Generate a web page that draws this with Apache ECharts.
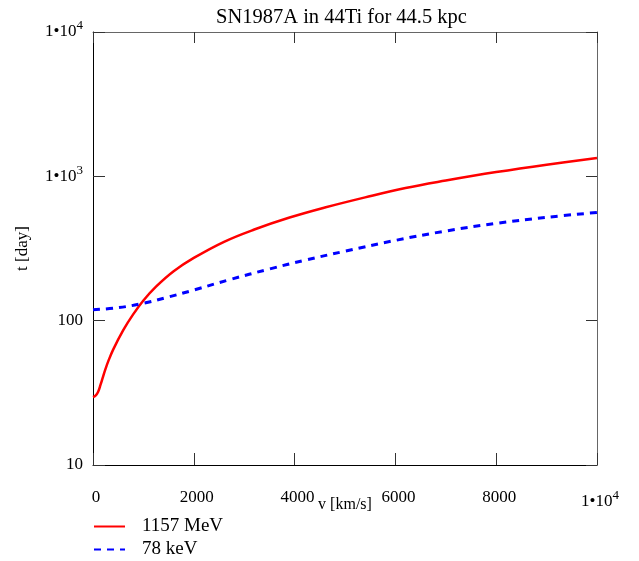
<!DOCTYPE html>
<html>
<head>
<meta charset="utf-8">
<script src="https://cdn.jsdelivr.net/npm/echarts@6/dist/echarts.min.js"></script>
<style>
html,body{margin:0;padding:0;background:#fff;}
#chart{width:639px;height:561px;}
</style>
</head>
<body>
<div id="chart"></div>
<script>
const titleText = 'SN1987A in 44Ti for 44.5 kpc';
const xName = 'v [km/s]';
const yName = 't [day]';
const seriesNames = ['1157 MeV', '78 keV'];

const redV = [0, 50, 100, 150, 200, 250, 300, 400, 600, 800, 1000, 1250, 1600, 2000, 2600, 3200, 3900, 4600, 5400, 6200, 7000, 8000, 9000, 10000];
const redT = [29.5, 30.2, 32, 36, 41, 46.5, 52, 63, 86, 111, 138, 172, 220, 272, 352, 428, 518, 608, 715, 830, 935, 1070, 1205, 1340];

const blueV = [0, 500, 1000, 1500, 2000, 2700, 3500, 4200, 5000, 6000, 7000, 8000, 9000, 10000];
const blueT = [119, 123, 132, 146, 163, 192, 228, 262, 303, 360, 418, 472, 520, 562];

const xTickMin = 0, xTickMax = 10000, xTickStep = 2000;
const yTickMin = 10, yTickMax = 10000;

const FONT = '"Liberation Serif", "DejaVu Serif", serif';

function pow10Label(v) {
  if (v === 10 || v === 100) return '{m|' + v + '}';
  const e = Math.round(Math.log10(v));
  return '{m|1\u202210}{s|' + e + '}';
}
const richStyle = {
  m: { fontSize: 17, fontFamily: FONT, color: '#000' },
  s: { fontSize: 13, fontFamily: FONT, color: '#000', padding: [0, 0, 12, 0] }
};

const chart = echarts.init(document.getElementById('chart'), null, { renderer: 'canvas' });
chart.setOption({
  animation: false,
  backgroundColor: '#fff',
  title: {
    text: titleText,
    left: 211, top: 2,
    textStyle: { fontFamily: FONT, fontSize: 20.5, fontWeight: 'normal', color: '#000' }
  },
  grid: { left: 93, right: 42, top: 32, bottom: 96 },
  legend: {
    orient: 'vertical',
    left: 93, top: 517, padding: 0, height: 80, width: 300,
    itemWidth: 31, itemHeight: 14, itemGap: 4,
    itemStyle: { opacity: 0 },
    textStyle: { fontFamily: FONT, fontSize: 19, lineHeight: 14, color: '#000', padding: [0, 0, 0, 12] },
    data: seriesNames
  },
  xAxis: [{
    type: 'value', min: xTickMin, max: xTickMax, interval: xTickStep,
    name: xName, nameLocation: 'middle', nameGap: 32, nameMoveOverlap: false,
    nameTextStyle: { fontFamily: FONT, fontSize: 16, color: '#000' },
    axisLine: { show: true, lineStyle: { color: '#000', width: 1 } },
    axisTick: { show: true, inside: true, length: 12, lineStyle: { color: '#333' } },
    axisLabel: {
      margin: 24, padding: [0, 0, 0, 6],
      formatter: function (v) { return v === 10000 ? pow10Label(v) : '{m|' + v + '}'; },
      rich: richStyle
    },
    splitLine: { show: false }
  }, {
    type: 'value', min: xTickMin, max: xTickMax, interval: xTickStep, position: 'top',
    axisLine: { show: true, onZero: false, lineStyle: { color: '#666', width: 1 } },
    axisTick: { show: true, inside: true, length: 11, lineStyle: { color: '#333' } },
    axisLabel: { show: false },
    splitLine: { show: false }
  }],
  yAxis: [{
    type: 'log', logBase: 10, min: yTickMin, max: yTickMax,
    name: yName, nameLocation: 'middle', nameGap: 62, nameRotate: 90, nameMoveOverlap: false,
    nameTextStyle: { fontFamily: FONT, fontSize: 17, color: '#000' },
    axisLine: { show: true, lineStyle: { color: '#000', width: 1 } },
    axisTick: { show: true, inside: true, length: 12, lineStyle: { color: '#333' } },
    axisLabel: { margin: 10, formatter: pow10Label, rich: richStyle },
    splitLine: { show: false },
    minorTick: { show: false }
  }, {
    type: 'log', logBase: 10, min: yTickMin, max: yTickMax, position: 'right',
    axisLine: { show: true, onZero: false, lineStyle: { color: '#666', width: 1 } },
    axisTick: { show: true, inside: true, length: 11, lineStyle: { color: '#333' } },
    axisLabel: { show: false },
    splitLine: { show: false }
  }],
  series: [{
    name: seriesNames[0], type: 'line', xAxisIndex: 0, yAxisIndex: 0,
    data: redV.map((v, i) => [v, redT[i]]),
    smooth: 0.4, symbol: 'none',
    lineStyle: { color: '#ff0000', width: 2.5 },
    itemStyle: { color: '#ff0000', opacity: 0 }
  }, {
    name: seriesNames[1], type: 'line', xAxisIndex: 0, yAxisIndex: 0,
    data: blueV.map((v, i) => [v, blueT[i]]),
    smooth: 0.4, symbol: 'none',
    lineStyle: { color: '#0000ff', width: 3, type: [7, 6] },
    itemStyle: { color: '#0000ff', opacity: 0 }
  }]
});
</script>
</body>
</html>
